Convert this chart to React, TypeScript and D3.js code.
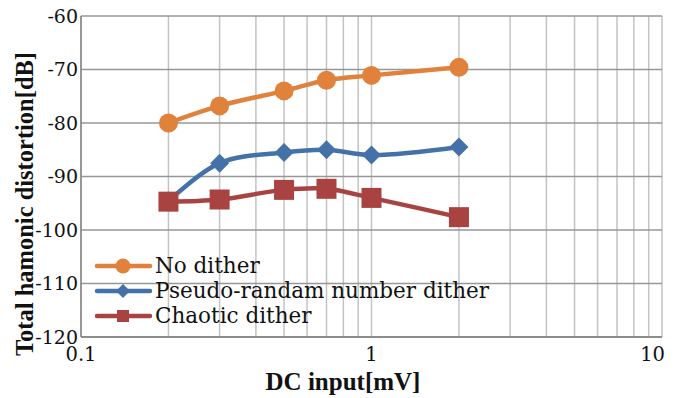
import { useEffect, useRef } from "react";
import * as d3 from "d3";

const inputs = [0.2, 0.3, 0.5, 0.7, 1, 2];
const noDither = [-80.0, -76.8, -74.0, -72.0, -71.1, -69.6];
const pseudoDither = [-94.6, -87.5, -85.5, -85.0, -86.0, -84.5];
const chaoticDither = [-94.7, -94.3, -92.5, -92.3, -94.0, -97.6];
const seriesNames = ["No dither", "Pseudo-randam number dither", "Chaotic dither"];
const yTicks = [-120, -110, -100, -90, -80, -70, -60];
const xTicks = [0.1, 1, 10];

const W = 681;
const H = 398;
const colors = ["#e0823b", "#4472a8", "#a84341"];
const shapes = ["circle", "diamond", "square"];

const App = () => {
  const svgRef = useRef(null);

  useEffect(() => {
    const svg = d3.select(svgRef.current);
    svg.selectAll("*").remove();
    const margin = { top: 16, right: 19, bottom: 61, left: 81 };
    const x = d3
      .scaleLog()
      .domain([0.1, 10])
      .range([margin.left, W - margin.right]);
    const y = d3
      .scaleLinear()
      .domain([-120, -60])
      .range([H - margin.bottom, margin.top]);

    // minor vertical grid
    const minor = [];
    for (let dec = 0.1; dec < 10; dec *= 10) {
      for (let k = 2; k <= 10; k++) minor.push(+(dec * k).toFixed(3));
    }
    svg
      .append("g")
      .selectAll("line")
      .data(minor)
      .join("line")
      .attr("x1", (d) => x(d))
      .attr("x2", (d) => x(d))
      .attr("y1", y(-60))
      .attr("y2", y(-120))
      .attr("stroke", "#c3c3c3")
      .attr("stroke-width", 1.5);

    svg
      .append("g")
      .selectAll("line")
      .data(yTicks.filter((d) => d > -120))
      .join("line")
      .attr("x1", x(0.1))
      .attr("x2", x(10))
      .attr("y1", (d) => y(d))
      .attr("y2", (d) => y(d))
      .attr("stroke", "#979797")
      .attr("stroke-width", 1.5);

    // axes lines
    svg
      .append("line")
      .attr("x1", x(0.1))
      .attr("x2", x(0.1))
      .attr("y1", y(-60))
      .attr("y2", y(-120))
      .attr("stroke", "#8c8c8c")
      .attr("stroke-width", 1.8);
    svg
      .append("line")
      .attr("x1", x(0.1))
      .attr("x2", x(10))
      .attr("y1", y(-120))
      .attr("y2", y(-120))
      .attr("stroke", "#8c8c8c")
      .attr("stroke-width", 1.8);

    const tickFont = "'DejaVu Serif', serif";
    svg
      .append("g")
      .selectAll("text")
      .data(yTicks)
      .join("text")
      .attr("x", margin.left - 3)
      .attr("y", (d) => y(d))
      .attr("dy", "0.35em")
      .attr("text-anchor", "end")
      .attr("font-family", tickFont)
      .attr("font-size", 19)
      .attr("fill", "#111")
      .text((d) => d);

    svg
      .append("g")
      .selectAll("text")
      .data(xTicks)
      .join("text")
      .attr("x", (d) => (d === 10 ? x(d) + 3 : x(d)))
      .attr("y", H - margin.bottom + 24)
      .attr("text-anchor", (d) => (d === 10 ? "end" : "middle"))
      .attr("font-family", tickFont)
      .attr("font-size", 19.5)
      .attr("fill", "#111")
      .text((d) => d);

    const titleFont = "'Liberation Serif', 'Times New Roman', serif";
    svg
      .append("text")
      .attr("x", 343)
      .attr("y", 390)
      .attr("text-anchor", "middle")
      .attr("font-family", titleFont)
      .attr("font-weight", "bold")
      .attr("font-size", 25)
      .attr("fill", "#111")
      .text("DC input[mV]");
    svg
      .append("text")
      .attr("transform", "translate(33,204) rotate(-90)")
      .attr("text-anchor", "middle")
      .attr("font-family", titleFont)
      .attr("font-weight", "bold")
      .attr("font-size", 24.5)
      .attr("fill", "#111")
      .text("Total hamonic distortion[dB]");

    const drawMarker = (g, shape, cx, cy, s, color) => {
      if (shape === "circle") {
        g.append("circle").attr("cx", cx).attr("cy", cy).attr("r", s).attr("fill", color);
      } else if (shape === "diamond") {
        g.append("path")
          .attr("d", `M${cx},${cy - s}L${cx + s},${cy}L${cx},${cy + s}L${cx - s},${cy}Z`)
          .attr("fill", color);
      } else {
        g.append("rect")
          .attr("x", cx - s)
          .attr("y", cy - s)
          .attr("width", 2 * s)
          .attr("height", 2 * s)
          .attr("fill", color);
      }
    };

    const allSeries = [noDither, pseudoDither, chaoticDither];
    const markerSize = [9.5, 9.5, 10];
    const line = d3
      .line()
      .x((d) => x(d[0]))
      .y((d) => y(d[1]))
      .curve(d3.curveCatmullRom.alpha(0.5));

    allSeries.forEach((vals, i) => {
      const pts = inputs.map((v, j) => [v, vals[j]]);
      const g = svg.append("g");
      g.append("path")
        .datum(pts)
        .attr("fill", "none")
        .attr("stroke", colors[i])
        .attr("stroke-width", 4.5)
        .attr("stroke-linejoin", "round")
        .attr("d", line);
      pts.forEach((p) => drawMarker(g, shapes[i], x(p[0]), y(p[1]), markerSize[i], colors[i]));
    });

    // legend
    const legend = svg.append("g");
    const legendMarker = [7.5, 7, 6];
    seriesNames.forEach((name, i) => {
      const ly = 266 + i * 25;
      legend
        .append("line")
        .attr("x1", 97)
        .attr("x2", 150)
        .attr("y1", ly)
        .attr("y2", ly)
        .attr("stroke", colors[i])
        .attr("stroke-width", 4.5)
        .attr("stroke-linecap", "round");
      drawMarker(legend, shapes[i], 123, ly, legendMarker[i], colors[i]);
      legend
        .append("text")
        .attr("x", 155)
        .attr("y", ly + 7)
        .attr("font-family", tickFont)
        .attr("font-size", 21.5)
        .attr("fill", "#111")
        .text(name);
    });
  }, []);

  return (
    <svg
      ref={svgRef}
      width={W}
      height={H}
      style={{ position: "absolute", left: 0, top: 0, background: "#fff" }}
    ></svg>
  );
};

export default App;
